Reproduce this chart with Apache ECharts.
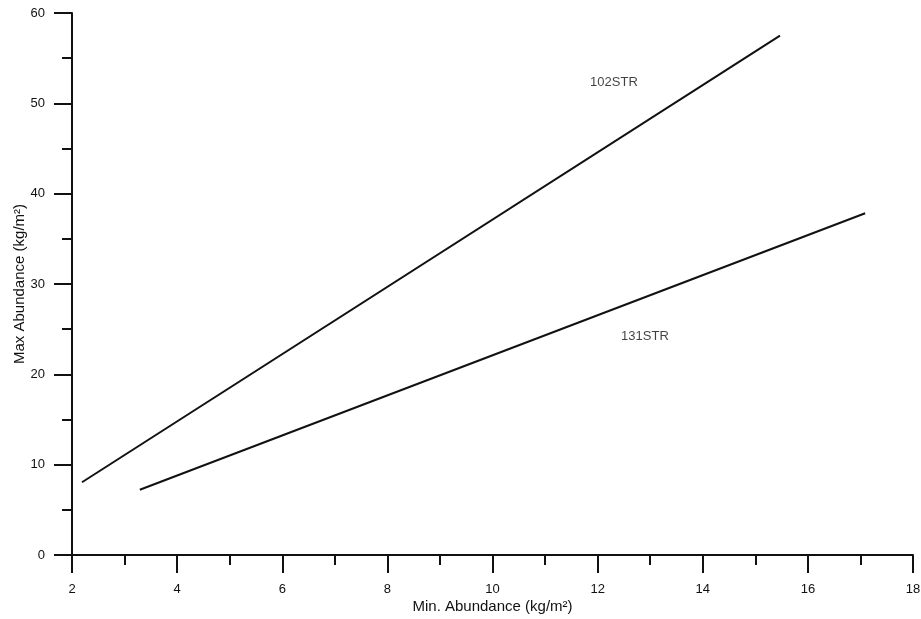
<!DOCTYPE html>
<html>
<head>
<meta charset="utf-8">
<script src="https://cdn.jsdelivr.net/npm/echarts@6/dist/echarts.min.js"></script>
<style>
  html, body { margin: 0; padding: 0; background: #fff; }
  #chart { width: 921px; height: 619px; }
</style>
</head>
<body>
<div id="chart"></div>
<script>
// Regression lines of max vs. min abundance for two strata
const seriesNames = ['102STR', '131STR'];
const line102 = [[2.19, 8.05], [15.47, 57.5]];
const line131 = [[3.29, 7.22], [17.09, 37.83]];
// Where each series name is written, in data units
const labelPoints = [[12.31, 52.3, '102STR'], [12.9, 24.2, '131STR']];

const xTicks = { min: 2, max: 18, interval: 2 };
const yTicks = { min: 0, max: 60, interval: 10 };

const font = 'Liberation Sans, Arial, sans-serif';
const ink = '#111';
const textInk = '#111';

const chart = echarts.init(document.getElementById('chart'), null, { renderer: 'canvas' });

function axisCommon() {
  return {
    axisLine: { show: true, onZero: false, lineStyle: { color: ink, width: 2 } },
    axisTick: { show: true, inside: false, length: 18, lineStyle: { color: ink, width: 2 } },
    minorTick: { show: true, splitNumber: 2, length: 10, lineStyle: { color: ink, width: 2 } },
    splitLine: { show: false },
    axisLabel: { color: textInk, fontFamily: font, fontSize: 13 },
    nameTextStyle: { color: textInk, fontFamily: font, fontSize: 15 },
    nameMoveOverlap: false
  };
}

const xAxis = Object.assign(axisCommon(), {
  type: 'value',
  min: xTicks.min, max: xTicks.max, interval: xTicks.interval,
  name: 'Min. Abundance (kg/m²)',
  nameLocation: 'middle',
  nameGap: 44
});
xAxis.axisLabel.margin = 28;

const yAxis = Object.assign(axisCommon(), {
  type: 'value',
  min: yTicks.min, max: yTicks.max, interval: yTicks.interval,
  name: 'Max Abundance (kg/m²)',
  nameLocation: 'middle',
  nameGap: 45
});
yAxis.axisLabel.margin = 27;

chart.setOption({
  animation: false,
  backgroundColor: '#fff',
  grid: {
    left: 72, right: 8, top: 13, bottom: 64,
    containLabel: false, outerBoundsMode: 'none'
  },
  xAxis: xAxis,
  yAxis: yAxis,
  series: [
    {
      name: seriesNames[0], type: 'line', data: line102,
      symbol: 'none', lineStyle: { color: ink, width: 2 }
    },
    {
      name: seriesNames[1], type: 'line', data: line131,
      symbol: 'none', lineStyle: { color: ink, width: 2 }
    },
    {
      type: 'scatter', data: labelPoints, symbolSize: 0,
      label: {
        show: true, position: 'inside',
        formatter: p => p.data[2],
        color: textInk, fontFamily: font, fontSize: 13
      }
    }
  ]
});
</script>
</body>
</html>
